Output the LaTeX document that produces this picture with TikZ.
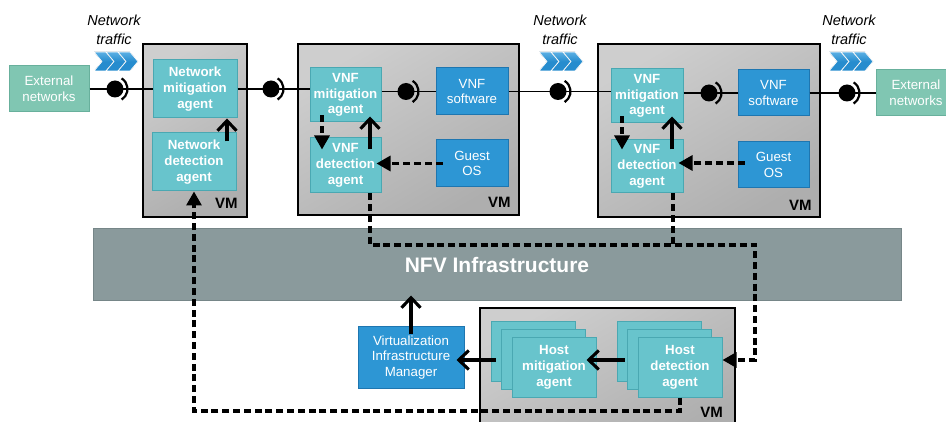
\documentclass[tikz,border=0pt]{standalone}
\usepackage{fontspec}
\setmainfont{Liberation Sans}
\usetikzlibrary{arrows.meta,calc}

\definecolor{agentfill}{RGB}{104,196,204}
\definecolor{agentline}{RGB}{74,168,178}
\definecolor{swfill}{RGB}{45,150,212}
\definecolor{swline}{RGB}{30,118,176}
\definecolor{extfill}{RGB}{128,198,178}
\definecolor{extline}{RGB}{104,176,156}
\definecolor{nfvfill}{RGB}{138,154,156}
\definecolor{nfvline}{RGB}{118,134,136}
\definecolor{vmlight}{RGB}{206,206,206}
\definecolor{vmdark}{RGB}{174,174,174}
\definecolor{chevblue}{RGB}{38,140,206}
\definecolor{chevtop}{RGB}{92,176,228}

\begin{document}
\begin{tikzpicture}[x=1pt,y=-1pt,
  box/.style={draw, line width=1pt, inner sep=0pt, align=center, text=white,
    font=\fontsize{13.3}{15.8}\selectfont},
  agent/.style={box, fill=agentfill, draw=agentline,
    font=\bfseries\fontsize{13.3}{15.8}\selectfont},
  swbox/.style={box, fill=swfill, draw=swline},
  extbox/.style={box, fill=extfill, draw=extline},
  vmbox/.style={draw=black, line width=1.4pt, top color=vmlight, bottom color=vmdark,
    shading angle=30, inner sep=0pt},
  vmlab/.style={font=\bfseries\fontsize{15}{18}\selectfont, inner sep=0pt, anchor=east},
  ball/.style={circle, fill=black, minimum size=17pt, inner sep=0pt},
  socket/.style={line width=2.2pt},
  link/.style={line width=1.8pt},
  solidarr/.style={line width=3.1pt, -{Straight Barb[length=10pt,width=19pt]}},
  dashln/.style={line width=3.1pt, dash pattern=on 7pt off 3.8pt},
  dasharr/.style={dashln, -{Triangle[length=14pt,width=15pt]}},
  traffic/.style={font=\itshape\fontsize{14.5}{18.5}\selectfont, align=center, inner sep=0pt},
  chevrons/.pic={
    \foreach \i in {0,12,24}
      \filldraw[top color=chevtop, bottom color=chevblue, middle color=chevblue,
        draw=white, line width=0.7pt]
        (\i,0) -- (\i+12,0) -- (\i+20,9.5) -- (\i+12,19) -- (\i,19) -- (\i+8,9.5) -- cycle;
  }]
\useasboundingbox (0,0) rectangle (946,422);

% virtual machines
\node[vmbox, minimum width=104pt, minimum height=173pt] (vm1) at (195,130.5) {};
\node[vmbox, minimum width=221pt, minimum height=171pt] (vm2) at (408.5,129.5) {};
\node[vmbox, minimum width=222pt, minimum height=173pt] (vm3) at (709,130.5) {};
\node[vmbox, minimum width=255pt, minimum height=132pt] (vm4) at (607.5,374) {};
\node[vmlab] (vml1) at ($(vm1.south east)+(-10,-14)$) {VM};
\node[vmlab] (vml2) at ($(vm2.south east)+(-9,-13)$) {VM};
\node[vmlab] (vml3) at ($(vm3.south east)+(-9,-12)$) {VM};
\node[vmlab] (vml4) at (723,412) {VM};

% external networks
\node[extbox, minimum width=80pt, minimum height=46pt] (extL) at (49,89) {External\\networks};
\node[extbox, minimum width=80pt, minimum height=46pt] (extR) at (916,92.5) {External\\networks};

% network agents
\node[agent, minimum width=84pt, minimum height=58pt] (nma) at (195,89) {Network\\mitigation\\agent};
\node[agent, minimum width=84pt, minimum height=58pt] (nda) at (194,162) {Network\\detection\\agent};

% first VNF
\node[agent, minimum width=71pt, minimum height=54pt] (vma2) at (345.5,95) {VNF\\mitigation\\agent};
\node[agent, minimum width=71pt, minimum height=55pt] (vda2) at (345.5,165.5) {VNF\\detection\\agent};
\node[swbox, minimum width=72pt, minimum height=47pt] (vsw2) at (472,91.5) {VNF\\software};
\node[swbox, minimum width=72pt, minimum height=47pt] (gos2) at (472,163.5) {Guest\\OS};

% second VNF
\node[agent, minimum width=72pt, minimum height=54pt] (vma3) at (647,96) {VNF\\mitigation\\agent};
\node[agent, minimum width=72pt, minimum height=53pt] (vda3) at (647,166.5) {VNF\\detection\\agent};
\node[swbox, minimum width=71pt, minimum height=46pt] (vsw3) at (773.5,93) {VNF\\software};
\node[swbox, minimum width=71pt, minimum height=46pt] (gos3) at (773.5,165) {Guest\\OS};

% NFV infrastructure
\node[draw=nfvline, fill=nfvfill, line width=1pt, minimum width=808pt, minimum height=72pt,
  inner sep=0pt, text=white, font=\bfseries\fontsize{21}{25}\selectfont] (nfv) at (497,265) {NFV Infrastructure};

% virtualization infrastructure manager
\node[swbox, minimum width=106pt, minimum height=61pt] (vim) at (411,357.5)
  {Virtualization\\Infrastructure\\Manager};

% host agents (stacked instances)
\node[agent, minimum width=84pt, minimum height=59pt] (hmb) at (533,351.5) {};
\node[agent, minimum width=84pt, minimum height=59pt] (hmm) at (543.5,359.5) {};
\node[agent, minimum width=84pt, minimum height=59pt] (hmf) at (554,367.5) {Host\\mitigation\\agent};
\node[agent, minimum width=84pt, minimum height=59pt] (hdb) at (659,351.5) {};
\node[agent, minimum width=84pt, minimum height=59pt] (hdm) at (669.5,359.5) {};
\node[agent, minimum width=84pt, minimum height=59pt] (hdf) at (680,367.5) {Host\\detection\\agent};

% network traffic markers
\node[traffic] (tr1) at (114,30) {Network\\traffic};
\node[traffic] (tr2) at (560,30) {Network\\traffic};
\node[traffic] (tr3) at (849,30) {Network\\traffic};
\pic at (94,52) {chevrons};
\pic at (539,52) {chevrons};
\pic at (829,52) {chevrons};

% ball-and-socket interfaces
\node[ball] (s1) at (115,89) {};
\node[ball] (s2) at (271,89) {};
\node[ball] (s3) at (406,91.5) {};
\node[ball] (s4) at (558,91.5) {};
\node[ball] (s5) at (709,93) {};
\node[ball] (s6) at (847,93) {};
\foreach \s in {s1,s2,s3,s4,s5,s6}
  \draw[socket] ([shift={(-58:12.5pt)}]\s.center) arc[start angle=-58, end angle=58, radius=12.5pt];

% traffic path
\draw[link] (extL) -- (nma);
\draw[link] (nma.east) -- (nma.east -| vma2.west);
\draw[link] (vsw2.west -| vma2.east) -- (vsw2.west);
\draw[link] (vsw2.east) -- (vsw2.east -| vma3.west);
\draw[link] (vsw3.west -| vma3.east) -- (vsw3.west);
\draw[link] (vsw3.east) -- (vsw3.east -| extR.west);

% arrows inside the VMs
\draw[solidarr] ($(nda.north)+(33,9)$) -- ($(nma.south)+(32,0)$);
\draw[dasharr] ($(vma2.south)+(-23.5,-7)$) -- ($(vda2.north)+(-23.5,12)$);
\draw[solidarr] ($(vda2.north)+(24.5,12)$) -- ($(vma2.south)+(24.5,-6)$);
\draw[dasharr] ($(gos2.west)+(7,0)$) -- ($(vda2.east)+(-5,-2)$);
\draw[dasharr] ($(vma3.south)+(-25,-7)$) -- ($(vda3.north)+(-25,10)$);
\draw[solidarr] ($(vda3.north)+(25,10)$) -- ($(vma3.south)+(25,-7)$);
\draw[dasharr] ($(gos3.west)+(7,-2)$) -- ($(vda3.east)+(-5,-3.5)$);

% host side arrows
\draw[solidarr] ($(hdb.west)+(8,8.5)$) -- ($(hmf.east)+(-10,-7.5)$);
\draw[solidarr] ($(hmb.west)+(5,8.5)$) -- ($(vim.east)+(-8,2.5)$);
\draw[solidarr] ($(vim.north)+(0,8)$) -- ($(vim.north)+(0,-31)$);

% detection reports
\coordinate (jr) at (755,245);
\coordinate (jm) at (673,245);
\coordinate (bl) at (194,411);
\draw[dasharr] ($(vda2.south)+(24.5,0)$) |- (jr) |- ($(hdf.east)+(0,-7.5)$);
\draw[dashln] ($(vda3.south)+(26,0)$) -- (jm);
\draw[dasharr] (hdf.south) |- (bl) -- (nda.south);
\end{tikzpicture}
\end{document}
